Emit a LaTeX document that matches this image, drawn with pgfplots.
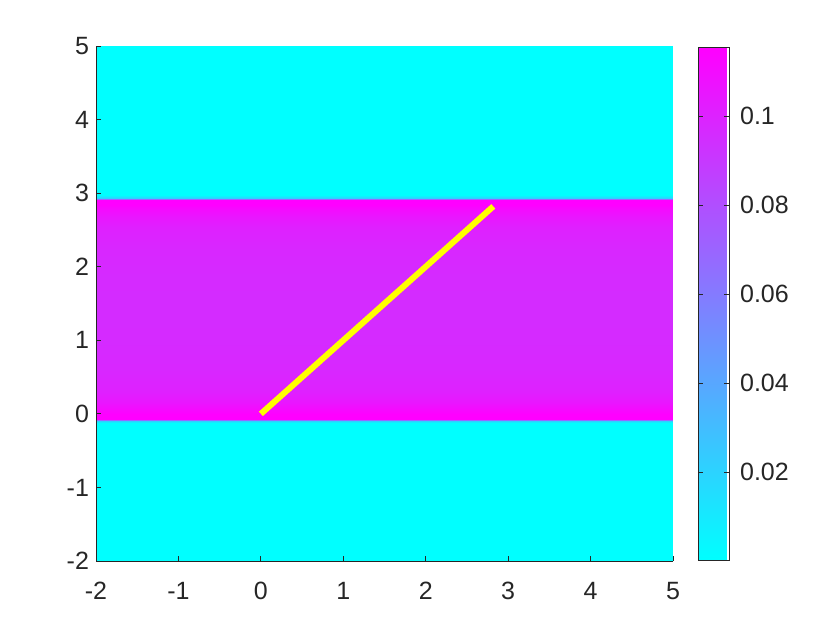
\documentclass[border=0pt]{standalone}
\usepackage{pgfplots}
\pgfplotsset{compat=1.18}
\usepackage{fontspec}
\setmainfont{Liberation Sans}
\definecolor{mgray}{rgb}{0.15,0.15,0.15}
\pgfplotstableread{
x y c
-2 -2 0.0003
5 -2 0.0003
-2 -0.13 0.0003
5 -0.13 0.0003
-2 -0.10 0.02
5 -0.10 0.02
-2 -0.07 0.1155
5 -0.07 0.1155
-2 0.0 0.1150
5 0.0 0.1150
-2 0.06 0.111
5 0.06 0.111
-2 0.15 0.106
5 0.15 0.106
-2 0.3 0.101
5 0.3 0.101
-2 0.6 0.098
5 0.6 0.098
-2 1.0 0.0965
5 1.0 0.0965
-2 1.42 0.096
5 1.42 0.096
-2 1.84 0.0965
5 1.84 0.0965
-2 2.24 0.098
5 2.24 0.098
-2 2.54 0.101
5 2.54 0.101
-2 2.69 0.106
5 2.69 0.106
-2 2.78 0.111
5 2.78 0.111
-2 2.84 0.1150
5 2.84 0.1150
-2 2.91 0.1155
5 2.91 0.1155
-2 2.94 0.02
5 2.94 0.02
-2 2.97 0.0003
5 2.97 0.0003
-2 5 0.0003
5 5 0.0003
}\fielddata
\begin{document}
\begin{tikzpicture}
\path[use as bounding box] (-48pt,-34.5pt) rectangle (372pt,280.5pt);
\begin{axis}[
  at={(0,0)}, anchor=south west,
  scale only axis, width=288.5pt, height=257.5pt,
  xmin=-2, xmax=5, ymin=-2, ymax=5,
  xtick={-2,...,5}, ytick={-2,...,5},
  axis x line*=bottom, axis y line*=left,
  axis line style={mgray, line width=0.4pt},
  every tick/.style={mgray, line width=0.4pt},
  major tick length=2.5pt,
  tick align=inside,
  tick label style={font=\fontsize{12.5}{14}\selectfont, text=mgray},
  xticklabel style={yshift=-7pt},
  /pgf/number format/assume math mode=true,
  axis on top,
  colormap={mcool}{rgb=(0,1,1) rgb=(1,0,1)},
  point meta min=0.0003, point meta max=0.1155,
  colorbar,
  colorbar style={
    at={(parent axis.north east)}, anchor=north west, xshift=4pt, yshift=-0.5pt,
    width=15.5pt, height=256.5pt,
    ytick={0.02,0.04,0.06,0.08,0.1},
    yticklabels={0.02,0.04,0.06,0.08,0.1},
    yticklabel pos=right,
    ytick align=inside,
    major tick length=2.5pt,
    tick style={mgray, line width=0.4pt},
    axis line style={mgray, line width=0.4pt},
    tick label style={font=\fontsize{12.5}{14}\selectfont, text=mgray},
    yticklabel style={xshift=2pt},
  },
]
\addplot[surf, shader=interp, mesh/cols=2, point meta=explicit] table[x=x, y=y, meta=c] {\fielddata};
\addplot[color={rgb,1:red,1;green,1;blue,0}, line width=3pt] coordinates {(0,0) (2.82,2.82)};
\end{axis}
\end{tikzpicture}
\end{document}
